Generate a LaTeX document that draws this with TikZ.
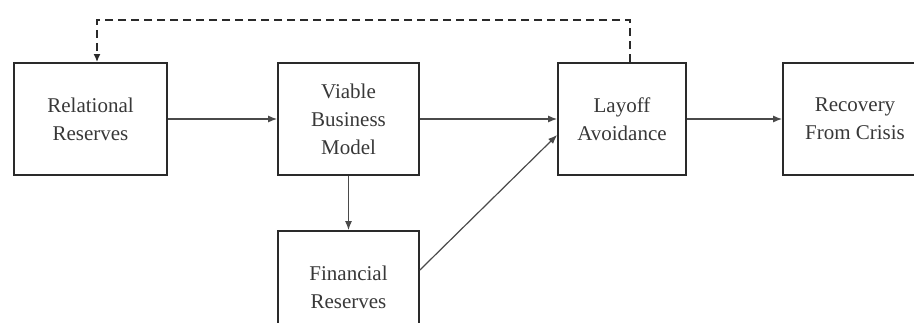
\documentclass[tikz,border=0pt]{standalone}
\usepackage{fontspec}
\setmainfont{Liberation Serif}
\usetikzlibrary{arrows.meta}
\definecolor{ink}{HTML}{2A2A2A}
\definecolor{txt}{HTML}{383838}
\begin{document}
\begin{tikzpicture}[x=1pt,y=-1pt,
  block/.style={draw=ink, line width=1.8pt, rectangle, inner sep=0pt,
    minimum height=112pt, text=txt, align=center,
    font=\fontsize{21}{28}\selectfont},
  flow/.style={draw=ink!85, line width=1.2pt, -{Latex[length=9pt,width=7pt]}},
  feedback/.style={draw=ink, line width=1.8pt, dash pattern=on 8pt off 5pt,
    -{Latex[length=8pt,width=7pt]}}]
  \useasboundingbox (0,0) rectangle (914,323);
  \clip (0,0) rectangle (914,323);
  % boxes
  \node[block, minimum width=153pt] (rr)  at (90.5,119)  {Relational\\Reserves};
  \node[block, minimum width=141pt] (vbm) at (348.5,119) {Viable\\Business\\Model};
  \node[block, minimum width=128pt] (la)  at (622,119)   {Layoff\\Avoidance};
  \node[block, minimum width=144pt] (rfc) at (855,119)   {Recovery\\From Crisis};
  \node[block, minimum width=141pt] (fr)  at (348.5,287) {Financial\\Reserves};
  % solid connectors
  \draw[flow] (rr.east) -- (vbm.west);
  \draw[flow] (vbm.east) -- (la.west);
  \draw[flow] (la.east) -- (rfc.west);
  \draw[flow] (vbm.south) -- (fr.north);
  \draw[flow] ([yshift=17pt]fr.east) -- ([yshift=-16pt]la.west);
  % dashed feedback loop
  \coordinate (top) at (0,20);
  \draw[feedback] ([xshift=8pt]la.north) -- ([xshift=8pt]la.north |- top)
    -| ([xshift=6.5pt]rr.north);
\end{tikzpicture}
\end{document}
